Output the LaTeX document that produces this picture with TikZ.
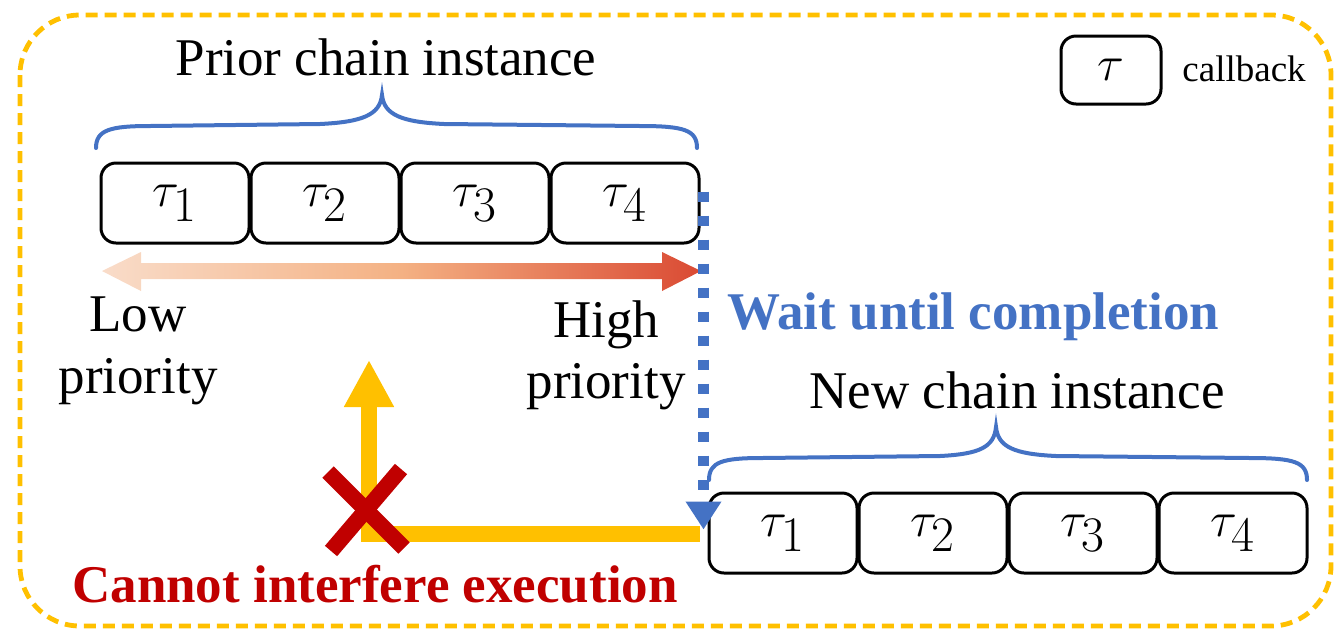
\documentclass[tikz,border=0pt]{standalone}
\usepackage{fontspec}
\setmainfont{Liberation Serif}
\usetikzlibrary{arrows.meta,calc}
\definecolor{amber}{HTML}{FFC000}
\definecolor{steel}{HTML}{4472C4}
\definecolor{crimson}{HTML}{C00000}
\definecolor{peach}{HTML}{F9DCC9}
\definecolor{apricot}{HTML}{F4B183}
\definecolor{brick}{HTML}{DA4A33}
\begin{document}
\begin{tikzpicture}[x=0.5pt,y=-0.5pt,
  cb/.style={draw=black,line width=1.5pt,rounded corners=7.5pt,
    minimum width=74pt,minimum height=40pt,inner sep=0pt,
    font=\fontsize{33}{38}\selectfont},
  label/.style={font=\fontsize{26.5}{31}\selectfont,inner sep=0pt,anchor=base},
  boldlabel/.style={label,font=\fontsize{26.5}{31}\selectfont\bfseries},
  bracepath/.style={draw=steel,line width=2pt,line cap=round},
  waitline/.style={draw=steel,line width=5.2pt,dash pattern=on 5pt off 7pt,
    -{Triangle[width=17pt,length=14pt]}},
  blockline/.style={draw=amber,line width=8pt,line join=miter,
    -{Triangle[width=23.5pt,length=23.5pt]}},
  crossline/.style={draw=crimson,line width=8pt}
]
\useasboundingbox (0,0) rectangle (1342,633);

% outer frame
\draw[amber,line width=2.4pt,dash pattern=on 6pt off 3.5pt,rounded corners=30pt]
  (20,15) rectangle (1331,626);

% legend
\node[cb,minimum width=50pt,minimum height=34pt] (leg) at (1111,70) {$\tau$};
\node[label,font=\fontsize{18.5}{22}\selectfont,anchor=base west] (legtext) at (1182,81) {callback};

% prior chain instance
\node[cb] (p1) at (175,203) {$\tau_1$};
\node[cb] (p2) at (325,203) {$\tau_2$};
\node[cb] (p3) at (475,203) {$\tau_3$};
\node[cb] (p4) at (625,203) {$\tau_4$};
\draw[bracepath] (96,148) .. controls (96,130) and (110,126) .. (150,126)
  -- (320,124) .. controls (362,122) and (380,115) .. (382,95)
  .. controls (384,115) and (402,122) .. (444,124)
  -- (640,126) .. controls (684,126) and (697,130) .. (697,148);
\node[label] (ptitle) at (386,75) {Prior chain instance};

% priority gradient arrow
\shade[left color=peach,right color=brick,middle color=apricot]
  (102,271) -- (141,252) -- (141,263) -- (662,263) -- (662,252) -- (701,271)
  -- (662,291) -- (662,279) -- (141,279) -- (141,291) -- cycle;
\node[label] (low1) at (138,331) {Low};
\node[label] (low2) at (138,393) {priority};
\node[label] (high1) at (606,337) {High};
\node[label] (high2) at (606,398) {priority};

% new chain instance
\node[cb] (n1) at (783,533) {$\tau_1$};
\node[cb] (n2) at (933,533) {$\tau_2$};
\node[cb] (n3) at (1083,533) {$\tau_3$};
\node[cb] (n4) at (1233,533) {$\tau_4$};
\draw[bracepath] (709,480) .. controls (709,462) and (722,458) .. (762,458)
  -- (940,456) .. controls (980,454) and (994,447) .. (996,427)
  .. controls (998,447) and (1014,454) .. (1056,456)
  -- (1250,458) .. controls (1294,458) and (1307,462) .. (1307,480);
\node[label] (ntitle) at (1017,408) {New chain instance};

% blocked preemption
\coordinate (bstart) at ($(n1.west)+(-8,1)$);
\coordinate (bup) at (369,360);
\draw[blockline] (bstart) -| (bup);
\coordinate (xc) at (366,510);
\draw[crossline] ($(xc)+(-38,-38)$) -- ($(xc)+(38,38)$);
\draw[crossline] ($(xc)+(35,-41)$) -- ($(xc)+(-35,41)$);
\node[boldlabel,text=crimson] (cannot) at (375,602) {Cannot interfere execution};

% waiting for the prior instance
\coordinate (wtop) at ($(p4.north east)+(3,30)$);
\coordinate (wend) at ($(n1.north west)+(-4,38)$);
\draw[waitline] (wtop) -- (wend);
\node[boldlabel,text=steel,anchor=base west] (wait) at (727,329) {Wait until completion};
\end{tikzpicture}
\end{document}
